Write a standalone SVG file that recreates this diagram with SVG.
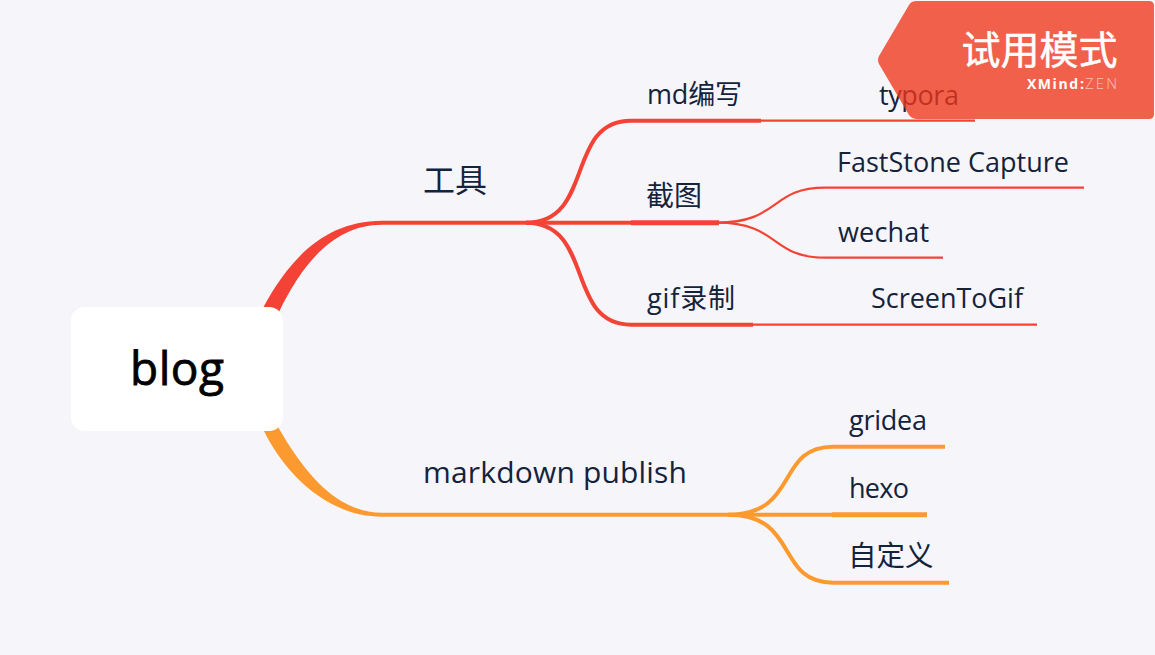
<svg xmlns="http://www.w3.org/2000/svg" width="1155" height="655" viewBox="0 0 1155 655">
<style>
text{font-family:"Open Sans","Noto Sans CJK SC",sans-serif;fill:#14233C}
.s{font-size:27px}
.r{fill:none;stroke:#F44336;stroke-linecap:butt}
.o{fill:none;stroke:#FD9A2F;stroke-linecap:butt}
</style>
<rect width="1155" height="655" fill="#F6F5FA"/>
<g id="connectors">
<path d="M263 308C290 258 325 221 382 220.700V224.700C335 224.700 303 262 279 312Z" fill="#F44336"/>
<path d="M264 431C283 470 325 516.700 382 516.700V512.700C335 512.700 303 470 278 427Z" fill="#FD9A2F"/>
<path class="r" stroke-width="4" d="M382 222.700H633"/>
<path class="o" stroke-width="4" d="M382 514.700H834"/>
<path class="r" stroke-width="4" d="M526 222.700C595 222.700 565 120.700 631 120.700H761"/>
<path class="r" stroke-width="4" d="M526 222.700C595 222.700 565 324.700 631 324.700H753"/>
<path class="r" stroke-width="5" d="M631 222.700H719"/>
<path class="r" stroke-width="2.200" d="M759 120.700H975"/>
<path class="r" stroke-width="2.200" d="M751 324.700H1037"/>
<path class="r" stroke-width="2.200" d="M717 222.700C780 222.700 770 187.700 825 187.700H1084"/>
<path class="r" stroke-width="2.200" d="M717 222.700C780 222.700 770 257.700 825 257.700H943"/>
<path class="o" stroke-width="4" d="M728 514.700C800 514.700 775 446.700 833 446.700H945"/>
<path class="o" stroke-width="4" d="M728 514.700C800 514.700 775 582.700 833 582.700H949"/>
<path class="o" stroke-width="5" d="M832 514.700H927"/>
</g>
<g id="root"><rect x="71" y="307" width="212" height="124" rx="14" fill="#fff"/><text x="177" y="385" text-anchor="middle" font-size="46" font-weight="400" textLength="94" stroke="#000" stroke-width=".8" style="fill:#000">blog</text></g>
<g id="n-tools"><text x="423" y="192" style="font-size:32px">工具</text></g>
<g id="n-md"><text class="s" x="647" y="104" textLength="95">md编写</text></g>
<g id="n-typora"><text class="s" x="879" y="105" textLength="80">typora</text></g>
<g id="n-shot"><text x="646" y="206" style="font-size:28px">截图</text></g>
<g id="n-fs"><text class="s" x="837" y="172" textLength="232">FastStone Capture</text></g>
<g id="n-wechat"><text class="s" x="838" y="242" textLength="91">wechat</text></g>
<g id="n-gif"><text class="s" x="647" y="308" textLength="88">gif录制</text></g>
<g id="n-stg"><text class="s" x="871" y="308" textLength="152">ScreenToGif</text></g>
<g id="n-pub"><text x="423" y="483" textLength="264" style="font-size:30px">markdown publish</text></g>
<g id="n-gridea"><text class="s" x="849" y="430" textLength="78">gridea</text></g>
<g id="n-hexo"><text class="s" x="849" y="498" textLength="60">hexo</text></g>
<g id="n-custom"><text x="848" y="566" style="font-size:28.500px">自定义</text></g>
<g id="banner">
<path d="M912 1H1149Q1154 1 1154 6V114Q1154 119 1149 119H917Q912 119 909 115L879 64Q877 60 879 56L909 5Q911 1 917 1Z" fill="#EF361A" fill-opacity=".78"/>
<text x="1039.500" y="64" text-anchor="middle" stroke="#fff" stroke-width=".5" style="fill:#fff;font-size:39px;font-weight:400">试用模式</text>
<text x="1027" y="89" textLength="51" style="fill:#fff;font-size:14px;font-weight:700">XMind</text>
<text x="1080" y="89" style="fill:#fff;font-size:14px;font-weight:700">:</text>
<text x="1085" y="89" textLength="32" style="fill:#fff;fill-opacity:.6;font-size:15px;font-weight:300">ZEN</text>
</g>
</svg>
